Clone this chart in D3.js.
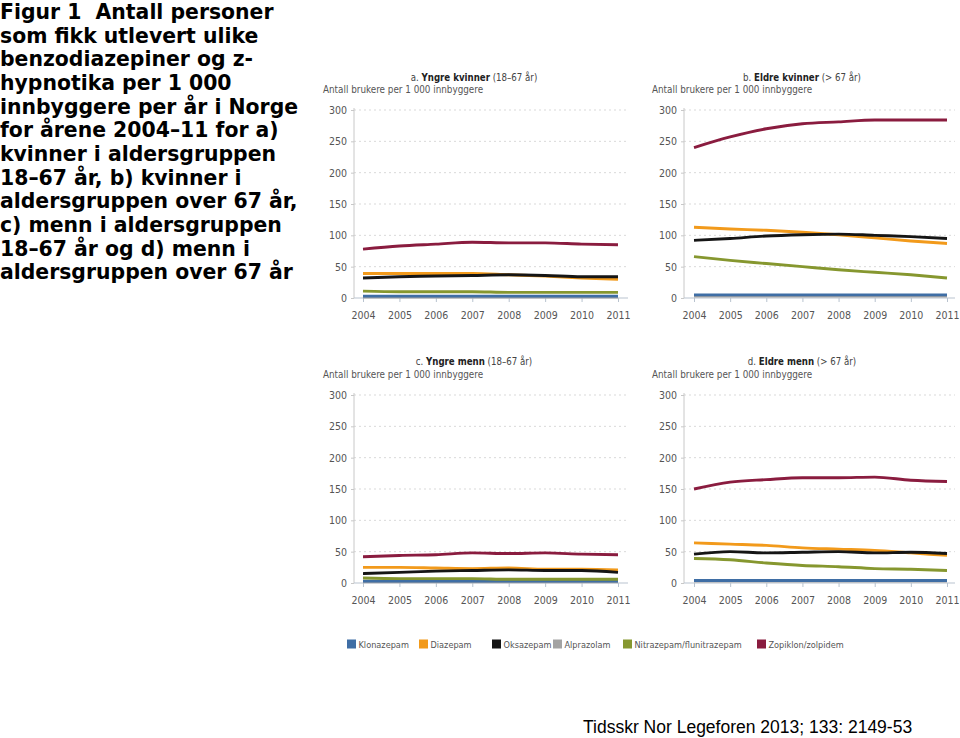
<!DOCTYPE html>
<html>
<head>
<meta charset="utf-8">
<script src="https://cdn.jsdelivr.net/npm/d3@7"></script>
<style>
  html, body { margin: 0; padding: 0; background: #fff; }
  svg { display: block; }
</style>
</head>
<body>
<svg id="chart" width="960" height="738"></svg>
<script>
// ---------- DATA ----------
const years = [2004, 2005, 2006, 2007, 2008, 2009, 2010, 2011];
const yTicks = [0, 50, 100, 150, 200, 250, 300];
const drugs = ["Klonazepam", "Diazepam", "Oksazepam", "Alprazolam", "Nitrazepam/flunitrazepam", "Zopiklon/zolpidem"];
const drugColors = ["#3f6ea5", "#f29a1b", "#151515", "#a3a3a3", "#86972f", "#8a1c3f"];

// values per 1 000 inhabitants, order as in `drugs`
const panelA = [ // a. Yngre kvinner (18–67 år)
  [3, 3, 3, 3, 3, 3, 3, 3],
  [39, 39, 39, 39, 37, 35, 32, 30],
  [32, 34, 35, 36, 37, 36, 34, 34],
  [1.5, 1.5, 1.5, 1.5, 1.5, 1.5, 1.5, 1.5],
  [11, 10, 10, 10, 9, 9, 9, 9],
  [78, 83, 86, 89, 88, 88, 86, 85]
];
const panelB = [ // b. Eldre kvinner (> 67 år)
  [5, 5, 5, 5, 5, 5, 5, 5],
  [113, 110, 108, 105, 101, 96, 91, 87],
  [92, 95, 99, 101, 102, 100, 98, 95],
  [3, 3, 3, 3, 3, 3, 3, 3],
  [66, 60, 55, 50, 45, 41, 37, 32],
  [240, 257, 270, 278, 281, 284, 284, 284]
];
const panelC = [ // c. Yngre menn (18–67 år)
  [3, 3, 3, 3, 3, 3, 3, 3],
  [25, 25, 24, 23, 24, 22, 22, 21],
  [15, 17, 19, 20, 21, 20, 20, 17],
  [2, 2, 2, 2, 2, 2, 2, 2],
  [8, 7, 7, 7, 6, 6, 6, 6],
  [42, 44, 45, 48, 47, 48, 46, 45]
];
const panelD = [ // d. Eldre menn (> 67 år)
  [4, 4, 4, 4, 4, 4, 4, 4],
  [64, 62, 60, 56, 54, 52, 48, 44],
  [46, 50, 48, 49, 50, 48, 49, 47],
  [3, 3, 3, 3, 3, 3, 3, 3],
  [39, 37, 32, 28, 26, 23, 22, 20],
  [150, 161, 165, 168, 168, 169, 164, 162]
];
const panelLetters = ["a.", "b.", "c.", "d."];
const panelNames = ["Yngre kvinner", "Eldre kvinner", "Yngre menn", "Eldre menn"];
const panelAges = ["(18–67 år)", "(> 67 år)", "(18–67 år)", "(> 67 år)"];
const yAxisTitle = "Antall brukere per 1 000 innbyggere";

const titleLines = [
  "Figur 1  Antall personer",
  "som fikk utlevert ulike",
  "benzodiazepiner og z-",
  "hypnotika per 1 000",
  "innbyggere per år i Norge",
  "for årene 2004–11 for a)",
  "kvinner i aldersgruppen",
  "18–67 år, b) kvinner i",
  "aldersgruppen over 67 år,",
  "c) menn i aldersgruppen",
  "18–67 år og d) menn i",
  "aldersgruppen over 67 år"
];
const sourceText = "Tidsskr Nor Legeforen 2013; 133: 2149-53";

// ---------- LAYOUT ----------
const svg = d3.select("#chart");
svg.append("rect").attr("width", 960).attr("height", 738).attr("fill", "#fff");

const smallFont = "'DejaVu Sans Condensed', 'DejaVu Sans', sans-serif";
const textGrey = "#555";

// Title block
const title = svg.append("text")
  .attr("font-family", "'DejaVu Sans', Verdana, sans-serif")
  .attr("font-weight", "bold")
  .attr("font-size", 20.4)
  .attr("fill", "#000")
  .style("white-space", "pre");
titleLines.forEach((l, i) => {
  title.append("tspan").attr("x", 0).attr("y", 19 + i * 23.65).text(l);
});

// Source
svg.append("text")
  .attr("x", 583).attr("y", 733)
  .attr("font-family", "'Liberation Sans', Arial, sans-serif")
  .attr("font-size", 17.5)
  .attr("fill", "#000")
  .text(sourceText);

const panels = [panelA, panelB, panelC, panelD];
const cols = [
  { axisX: 354, x0: 363, x1: 618, gridR: 628, subX: 323, titleCx: 474 },
  { axisX: 684, x0: 694, x1: 947, gridR: 955, subX: 652, titleCx: 802 }
];
const rows = [
  { yb: 298, yt: 110, titleY: 80.5, subY: 93 },
  { yb: 583, yt: 395, titleY: 365, subY: 377.5 }
];

panels.forEach((vals, pi) => {
  const c = cols[pi % 2], r = rows[Math.floor(pi / 2)];
  const g = svg.append("g");
  const x = d3.scaleLinear().domain([years[0], years[years.length - 1]]).range([c.x0, c.x1]);
  const y = d3.scaleLinear().domain([0, 300]).range([r.yb, r.yt]);

  // gridlines
  g.append("g").selectAll("line").data(yTicks.filter(t => t > 0)).join("line")
    .attr("x1", c.axisX).attr("x2", c.gridR)
    .attr("y1", d => y(d)).attr("y2", d => y(d))
    .attr("stroke", "#d9d9d9").attr("stroke-width", 1)
    .attr("stroke-dasharray", "2,3");

  // y axis
  const yAxis = d3.axisLeft(y).tickValues(yTicks).tickSize(3).tickPadding(4);
  const yg = g.append("g").attr("transform", `translate(${c.axisX},0)`).call(yAxis);
  yg.select(".domain").attr("stroke", "#c8c8c8").attr("d", `M0,${r.yb}V${r.yt - 2}`);
  yg.selectAll(".tick line").attr("stroke", "#c8c8c8");
  yg.selectAll(".tick text").attr("font-family", smallFont).attr("font-size", 10.5).attr("fill", textGrey);

  // x axis
  const xAxis = d3.axisBottom(x).tickValues(years).tickFormat(d3.format("d")).tickSize(4).tickPadding(10);
  const xg = g.append("g").attr("transform", `translate(0,${r.yb})`).call(xAxis);
  xg.select(".domain").attr("d", `M${c.axisX},0H${c.gridR}`).attr("stroke", "#b9c3cf").attr("stroke-width", 1.2);
  xg.selectAll(".tick line").attr("stroke", "#b9c3cf");
  xg.selectAll(".tick text").attr("font-family", smallFont).attr("font-size", 10.5).attr("fill", textGrey);

  // lines (drawing order: Alprazolam, Klonazepam, Nitrazepam, Diazepam, Oksazepam, Zopiklon)
  const order = [3, 0, 4, 1, 2, 5];
  const line = d3.line().x((d, i) => x(years[i])).y(d => y(d)).curve(d3.curveMonotoneX);
  order.forEach(di => {
    g.append("path")
      .attr("d", line(vals[di]))
      .attr("fill", "none")
      .attr("stroke", drugColors[di])
      .attr("stroke-width", 2.9)
      .attr("stroke-linecap", "butt");
  });

  // titles
  const t = g.append("text")
    .attr("x", c.titleCx).attr("y", r.titleY)
    .attr("text-anchor", "middle")
    .attr("font-family", smallFont).attr("font-size", 9.6).attr("fill", "#444");
  t.append("tspan").text(panelLetters[pi] + " ");
  t.append("tspan").attr("font-weight", "bold").attr("fill", "#222").text(panelNames[pi]);
  t.append("tspan").text(" " + panelAges[pi]);

  g.append("text")
    .attr("x", c.subX).attr("y", r.subY)
    .attr("font-family", smallFont).attr("font-size", 9.8).attr("fill", textGrey)
    .text(yAxisTitle);
});

// Legend
const legendX = [347, 419, 492, 553, 623, 757];
const lg = svg.append("g");
drugs.forEach((d, i) => {
  lg.append("rect")
    .attr("x", legendX[i]).attr("y", 639.5)
    .attr("width", 9).attr("height", 9)
    .attr("fill", drugColors[i]);
  lg.append("text")
    .attr("x", legendX[i] + 11.5).attr("y", 648)
    .attr("font-family", smallFont).attr("font-size", 9.1).attr("fill", textGrey)
    .text(d);
});
</script>
</body>
</html>
